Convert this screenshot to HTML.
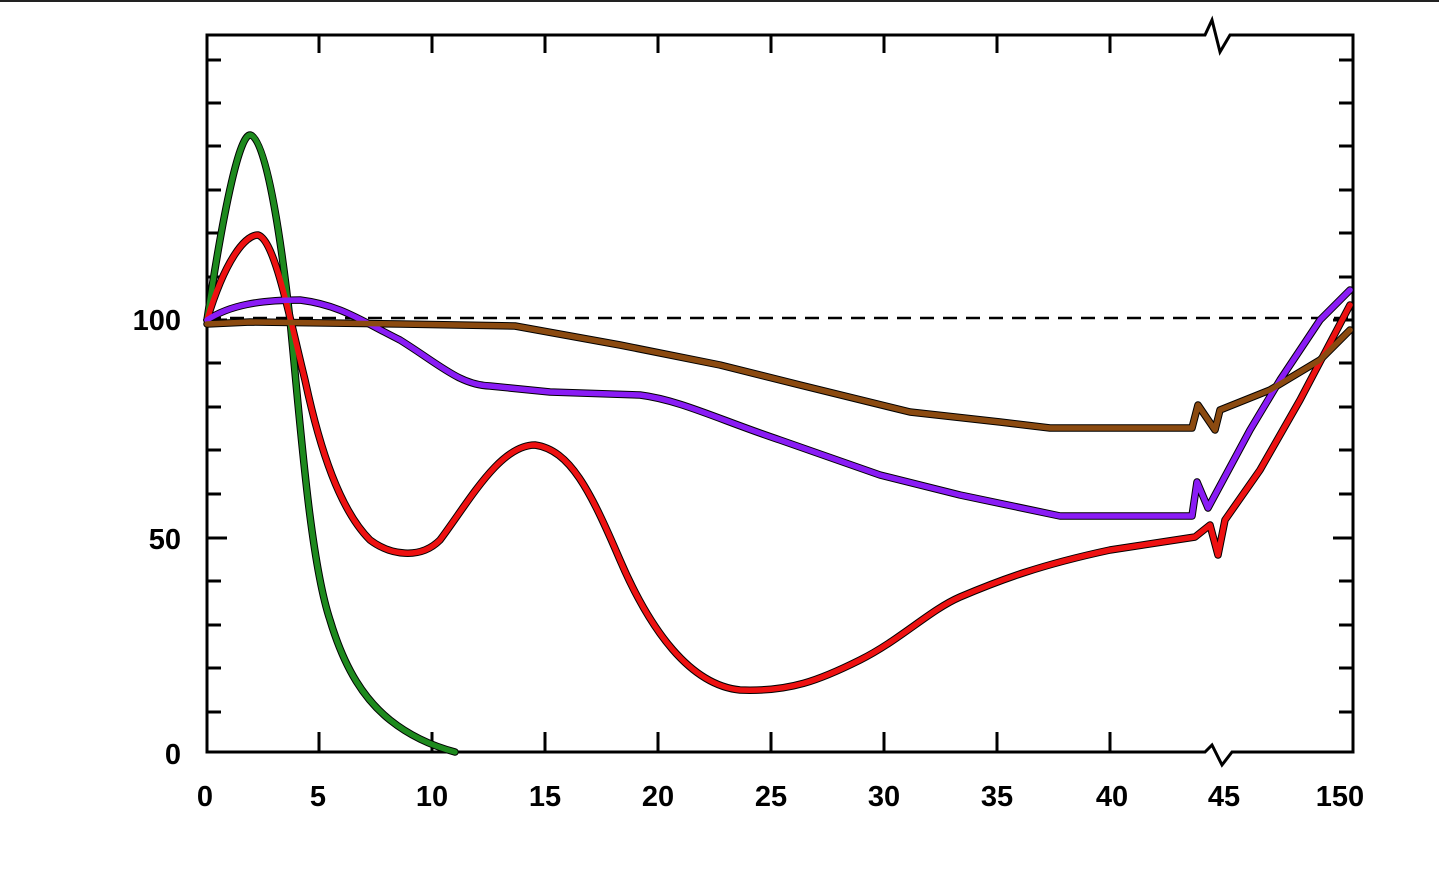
<!DOCTYPE html>
<html><head><style>body{margin:0;background:#fff}svg{display:block}</style></head><body>
<svg width="1439" height="882" xmlns="http://www.w3.org/2000/svg" font-family="Liberation Sans, sans-serif" font-weight="bold" font-size="29">
<rect x="0" y="0" width="1439" height="2" fill="#222"/>
<g stroke="#000" stroke-width="3" fill="none">
<path d="M207,752 V35 H1205 L1212,20 L1220,52 L1230,35 H1353 V752 H1232 L1222,765 L1212,745 L1205,752 Z" fill="none"/>
<path d="M207,320 h20 M207,538 h20 M207,752 h20 M207,363 h14 M207,407 h14 M207,450 h14 M207,494 h14 M207,581 h14 M207,625 h14 M207,668 h14 M207,712 h14 M207,277 h14 M207,233 h14 M207,190 h14 M207,146 h14 M207,103 h14 M207,60 h14"/>
<path d="M1353,320 h-20 M1353,538 h-20 M1353,363 h-14 M1353,407 h-14 M1353,450 h-14 M1353,494 h-14 M1353,581 h-14 M1353,625 h-14 M1353,668 h-14 M1353,712 h-14 M1353,277 h-14 M1353,233 h-14 M1353,190 h-14 M1353,146 h-14 M1353,103 h-14 M1353,60 h-14"/>
<path d="M319,752 v-20 M432,752 v-20 M545,752 v-20 M658,752 v-20 M771,752 v-20 M884,752 v-20 M997,752 v-20 M1110,752 v-20"/>
<path d="M319,35 v18 M432,35 v18 M545,35 v18 M658,35 v18 M771,35 v18 M884,35 v18 M997,35 v18 M1110,35 v18"/>
</g>
<path d="M207,318 H1350" stroke="#000" stroke-width="2.5" stroke-dasharray="14,9"/>
<g fill="none" stroke-linejoin="round" stroke-linecap="round">
<g stroke="#000" stroke-width="7.5">
<path d="M207,320 C225,200 240,135 250,135 C265,135 280,230 290,320 C300,420 310,560 330,620 C345,670 365,700 390,720 C415,740 440,748 455,752"/>
<path d="M207,320 C225,260 245,235 258,235 C275,240 290,320 305,380 C320,450 340,510 370,540 C390,555 420,560 440,540 C470,500 500,445 535,445 C570,450 590,490 620,560 C650,630 690,685 740,690 C790,692 820,680 860,660 C900,640 930,610 960,597 C1000,580 1040,565 1110,550 L1195,537 L1210,525 L1218,555 L1225,520 L1260,470 L1300,400 L1350,305"/>
<path d="M207,320 C230,305 260,300 300,300 C340,305 360,320 400,340 C440,365 460,385 490,386 L550,392 L640,395 C680,400 720,420 780,440 L880,475 L960,495 L1060,516 L1192,516 L1197,482 L1208,508 L1250,430 L1280,380 L1320,320 L1350,290"/>
<path d="M207,324 L250,322 L400,324 L515,326 L620,345 L720,365 L800,385 L910,412 L1000,422 L1050,428 L1192,428 L1198,405 L1215,430 L1220,410 L1270,390 L1320,360 L1350,330"/>
</g>
<path stroke="#1e8a1e" stroke-width="5.5" d="M207,320 C225,200 240,135 250,135 C265,135 280,230 290,320 C300,420 310,560 330,620 C345,670 365,700 390,720 C415,740 440,748 455,752"/>
<path stroke="#ee1111" stroke-width="5.5" d="M207,320 C225,260 245,235 258,235 C275,240 290,320 305,380 C320,450 340,510 370,540 C390,555 420,560 440,540 C470,500 500,445 535,445 C570,450 590,490 620,560 C650,630 690,685 740,690 C790,692 820,680 860,660 C900,640 930,610 960,597 C1000,580 1040,565 1110,550 L1195,537 L1210,525 L1218,555 L1225,520 L1260,470 L1300,400 L1350,305"/>
<path stroke="#8a1cf5" stroke-width="5.5" d="M207,320 C230,305 260,300 300,300 C340,305 360,320 400,340 C440,365 460,385 490,386 L550,392 L640,395 C680,400 720,420 780,440 L880,475 L960,495 L1060,516 L1192,516 L1197,482 L1208,508 L1250,430 L1280,380 L1320,320 L1350,290"/>
<path stroke="#8b4a10" stroke-width="5.5" d="M207,324 L250,322 L400,324 L515,326 L620,345 L720,365 L800,385 L910,412 L1000,422 L1050,428 L1192,428 L1198,405 L1215,430 L1220,410 L1270,390 L1320,360 L1350,330"/>
</g>
<g text-anchor="end"><text x="181" y="330">100</text><text x="181" y="549">50</text><text x="181" y="764">0</text></g>
<g text-anchor="middle"><text x="205" y="806">0</text><text x="318" y="806">5</text><text x="432" y="806">10</text><text x="545" y="806">15</text><text x="658" y="806">20</text><text x="771" y="806">25</text><text x="884" y="806">30</text><text x="997" y="806">35</text><text x="1112" y="806">40</text><text x="1224" y="806">45</text><text x="1340" y="806">150</text></g>
</svg>
</body></html>
